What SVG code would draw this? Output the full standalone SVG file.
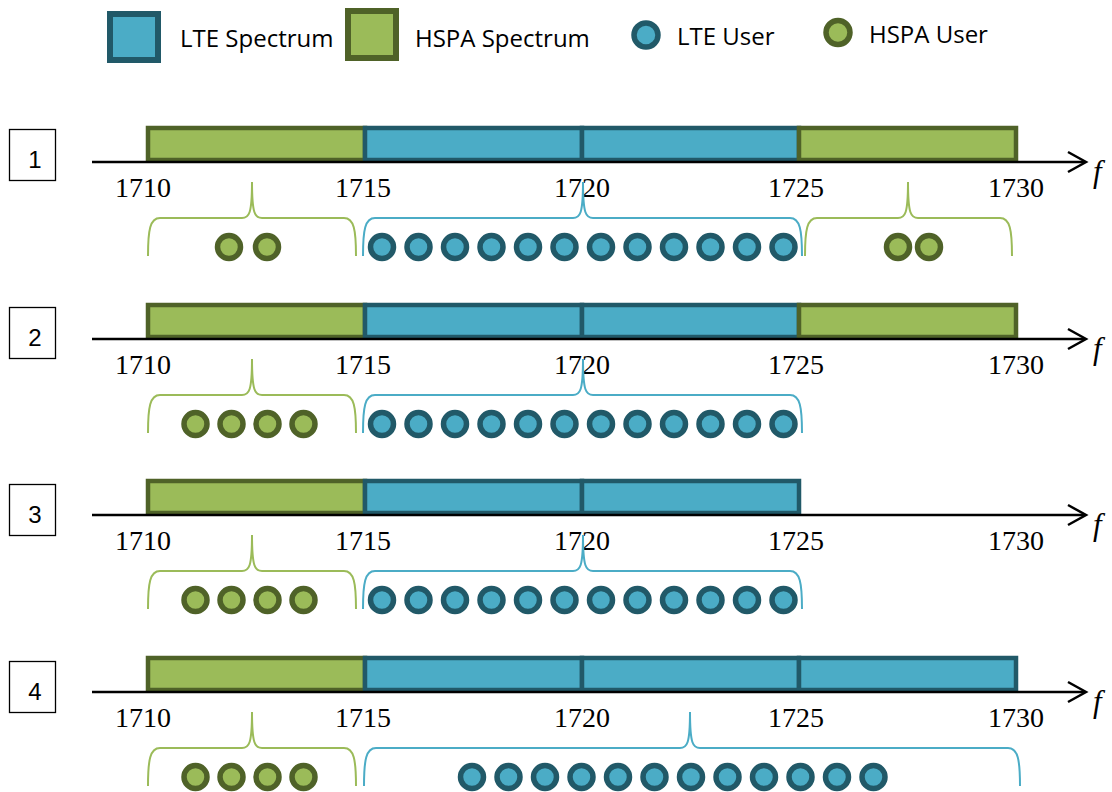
<svg xmlns="http://www.w3.org/2000/svg" width="1112" height="792" viewBox="0 0 1112 792">
<style>
.lte{fill:#4BACC6;stroke:#215968;stroke-width:4.5}
.hspa{fill:#9BBB59;stroke:#4F6228;stroke-width:4.5}
.lu{fill:#4BACC6;stroke:#215968;stroke-width:5.5}
.hu{fill:#9BBB59;stroke:#4F6228;stroke-width:5.5}
.bl{fill:none;stroke:#4BACC6;stroke-width:2}
.bh{fill:none;stroke:#9BBB59;stroke-width:2}
.ax{fill:none;stroke:#000;stroke-width:2.5}
.box{fill:#fff;stroke:#000;stroke-width:1.3}
.num{font-family:"Liberation Sans",Arial,sans-serif;font-size:24px;fill:#000;text-anchor:middle}
.tk{font-family:"Liberation Serif","Times New Roman",serif;font-size:28px;fill:#000;text-anchor:middle}
.f{font-family:"Liberation Serif","Times New Roman",serif;font-size:31px;font-style:italic;fill:#000}
.lg{font-family:"Open Sans","Liberation Sans",sans-serif;font-size:24px;fill:#000}
</style>
<defs>
<g id="axis">
<line class="ax" x1="92" y1="162" x2="1085" y2="162"/>
<polyline class="ax" points="1068,152 1086,162 1068,172"/>
<text class="f" x="1093" y="182">f</text>
<text class="tk" x="143" y="197">1710</text>
<text class="tk" x="363" y="197">1715</text>
<text class="tk" x="582" y="197">1720</text>
<text class="tk" x="796" y="197">1725</text>
<text class="tk" x="1016" y="197">1730</text>
</g>
<g id="lte12">
<circle class="lu" cx="382" cy="247" r="11.5"/>
<circle class="lu" cx="418.5" cy="247" r="11.5"/>
<circle class="lu" cx="455" cy="247" r="11.5"/>
<circle class="lu" cx="491.5" cy="247" r="11.5"/>
<circle class="lu" cx="528" cy="247" r="11.5"/>
<circle class="lu" cx="564.5" cy="247" r="11.5"/>
<circle class="lu" cx="601" cy="247" r="11.5"/>
<circle class="lu" cx="637.5" cy="247" r="11.5"/>
<circle class="lu" cx="674" cy="247" r="11.5"/>
<circle class="lu" cx="710.5" cy="247" r="11.5"/>
<circle class="lu" cx="747" cy="247" r="11.5"/>
<circle class="lu" cx="783.5" cy="247" r="11.5"/>
</g>
<g id="hspa4">
<circle class="hu" cx="195.5" cy="247" r="11.5"/>
<circle class="hu" cx="231.5" cy="247" r="11.5"/>
<circle class="hu" cx="267.5" cy="247" r="11.5"/>
<circle class="hu" cx="303.5" cy="247" r="11.5"/>
</g>
</defs>

<g id="legend">
<rect class="lte" x="110" y="14" width="48" height="46" style="stroke-width:6"/>
<text class="lg" x="180" y="47">LTE Spectrum</text>
<rect class="hspa" x="348" y="11" width="48" height="47" style="stroke-width:6"/>
<text class="lg" x="415" y="47">HSPA Spectrum</text>
<circle class="lu" cx="646" cy="35" r="12"/>
<text class="lg" x="677" y="45">LTE User</text>
<circle class="hu" cx="838" cy="32.5" r="12"/>
<text class="lg" x="869" y="43">HSPA User</text>
</g>

<g id="row1">
<rect class="box" x="9.5" y="129.5" width="46" height="51"/>
<text class="num" x="35" y="168">1</text>
<rect class="hspa" x="148" y="128" width="217" height="32"/>
<rect class="lte" x="365" y="128" width="217" height="32"/>
<rect class="lte" x="582" y="128" width="217" height="32"/>
<rect class="hspa" x="799" y="128" width="217" height="32"/>
<use href="#axis"/>
<path class="bh" d="M148,256 C148,230 150,218 160,218 L242,218 C249,218 252,214 252,182 C252,214 255,218 262,218 L344,218 C354,218 356,230 356,256"/>
<path class="bl" d="M363,256 C363,230 365,218 375,218 L573,218 C580,218 583,214 583,182 C583,214 586,218 593,218 L790,218 C800,218 802,230 802,256"/>
<path class="bh" d="M805,256 C805,230 807,218 817,218 L898,218 C905,218 908,214 908,182 C908,214 911,218 918,218 L1000,218 C1010,218 1012,230 1012,256"/>
<circle class="hu" cx="229" cy="247" r="11.5"/>
<circle class="hu" cx="267" cy="247" r="11.5"/>
<use href="#lte12"/>
<circle class="hu" cx="898" cy="247" r="11.5"/>
<circle class="hu" cx="929" cy="247" r="11.5"/>
</g>

<g id="row2" transform="translate(0,177)">
<rect class="box" x="9.5" y="130.5" width="46" height="51"/>
<text class="num" x="35" y="169">2</text>
<rect class="hspa" x="148" y="128" width="217" height="32"/>
<rect class="lte" x="365" y="128" width="217" height="32"/>
<rect class="lte" x="582" y="128" width="217" height="32"/>
<rect class="hspa" x="799" y="128" width="217" height="32"/>
<use href="#axis"/>
<path class="bh" d="M148,256 C148,230 150,218 160,218 L242,218 C249,218 252,214 252,182 C252,214 255,218 262,218 L344,218 C354,218 356,230 356,256"/>
<path class="bl" d="M363,256 C363,230 365,218 375,218 L573,218 C580,218 583,214 583,182 C583,214 586,218 593,218 L790,218 C800,218 802,230 802,256"/>
<use href="#hspa4"/>
<use href="#lte12"/>
</g>

<g id="row3" transform="translate(0,353)">
<rect class="box" x="9.5" y="131.5" width="46" height="51"/>
<text class="num" x="35" y="170">3</text>
<rect class="hspa" x="148" y="128" width="217" height="32"/>
<rect class="lte" x="365" y="128" width="217" height="32"/>
<rect class="lte" x="582" y="128" width="217" height="32"/>
<use href="#axis"/>
<path class="bh" d="M148,256 C148,230 150,218 160,218 L242,218 C249,218 252,214 252,182 C252,214 255,218 262,218 L344,218 C354,218 356,230 356,256"/>
<path class="bl" d="M363,256 C363,230 365,218 375,218 L573,218 C580,218 583,214 583,182 C583,214 586,218 593,218 L790,218 C800,218 802,230 802,256"/>
<use href="#hspa4"/>
<use href="#lte12"/>
</g>

<g id="row4" transform="translate(0,530)">
<rect class="box" x="9.5" y="131.5" width="46" height="51"/>
<text class="num" x="35" y="170">4</text>
<rect class="hspa" x="148" y="128" width="217" height="32"/>
<rect class="lte" x="365" y="128" width="217" height="32"/>
<rect class="lte" x="582" y="128" width="217" height="32"/>
<rect class="lte" x="799" y="128" width="217" height="32"/>
<use href="#axis"/>
<path class="bh" d="M148,256 C148,230 150,218 160,218 L242,218 C249,218 252,214 252,182 C252,214 255,218 262,218 L344,218 C354,218 356,230 356,256"/>
<path class="bl" d="M364,256 C364,230 366,218 376,218 L680,218 C687,218 690,214 690,182 C690,214 693,218 700,218 L1008,218 C1018,218 1020,230 1020,256"/>
<use href="#hspa4"/>
<use href="#lte12" transform="translate(90,0)"/>
</g>
</svg>
